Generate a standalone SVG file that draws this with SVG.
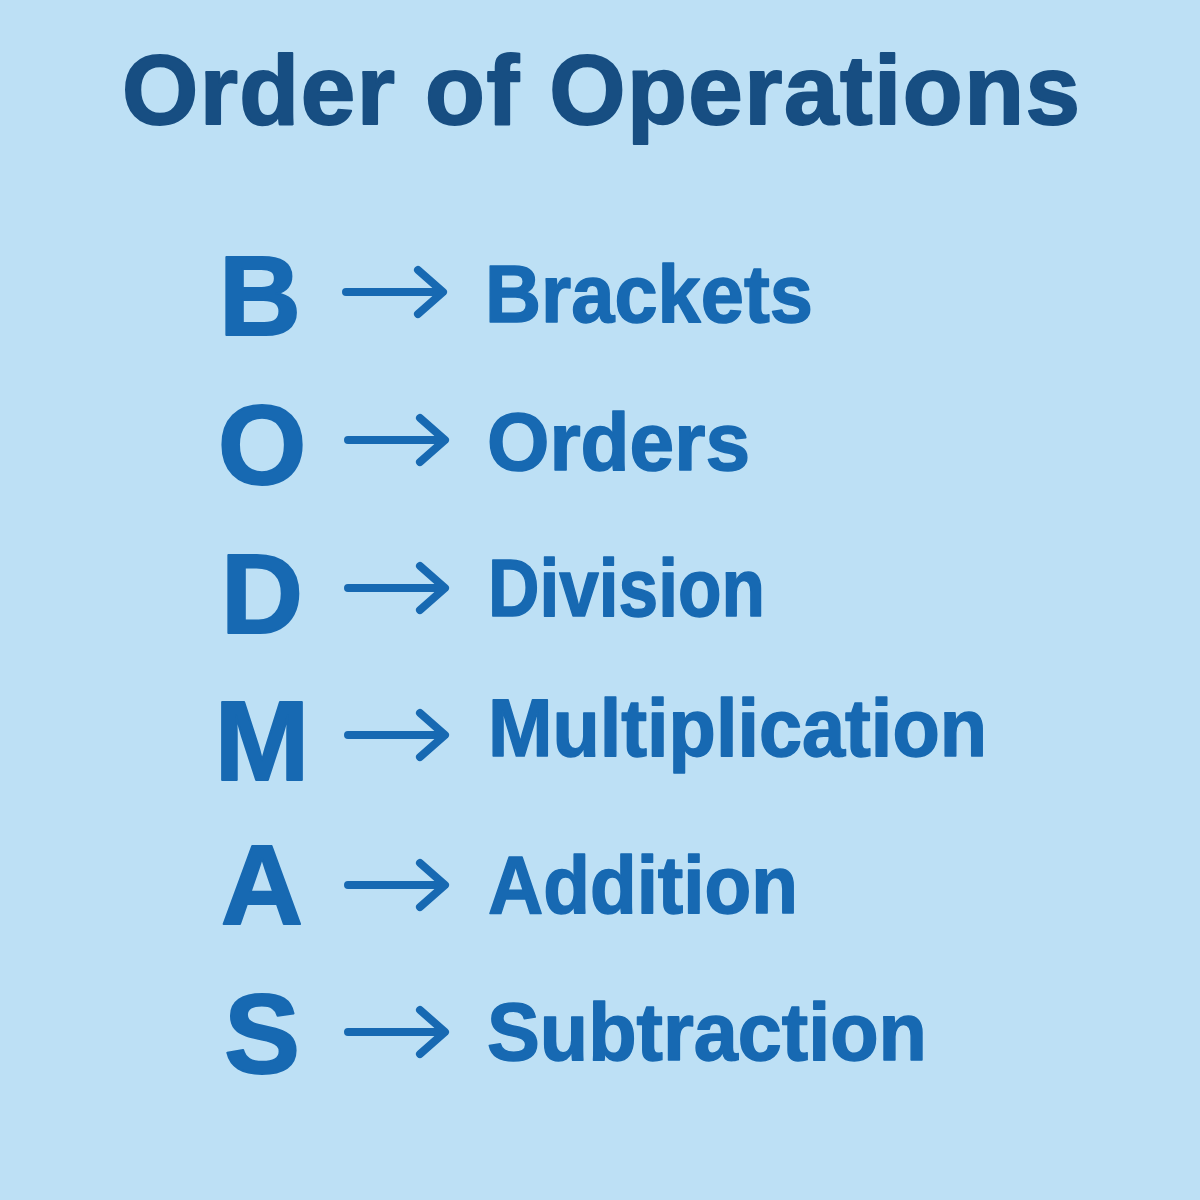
<svg xmlns="http://www.w3.org/2000/svg" width="1200" height="1200" viewBox="0 0 1200 1200">
<style>
.title{font-family:"Liberation Sans",Arial,sans-serif;font-weight:bold;font-size:98px;fill:#174E82;stroke:#174E82;stroke-width:2;stroke-linejoin:round}
.letter{font-family:"Liberation Sans",Arial,sans-serif;font-weight:bold;font-size:114px;fill:#1769B2;stroke:#1769B2;stroke-width:2;stroke-linejoin:round;text-anchor:middle}
.word{font-family:"Liberation Sans",Arial,sans-serif;font-weight:bold;font-size:82px;fill:#1769B2;stroke:#1769B2;stroke-width:1.5;stroke-linejoin:round}
.arr{fill:none;stroke:#1769B2;stroke-width:8;stroke-linecap:round;stroke-linejoin:round}
</style>
<defs>
<g id="arrow"><path class="arr" d="M0 0H96M72-22L97 0L72 22"/></g>
</defs>
<rect width="1200" height="1200" fill="#BDE0F5"/>
<g id="title"><text class="title" x="122" y="124" textLength="958" lengthAdjust="spacing">Order of Operations</text></g>
<g id="connectors">
<use href="#arrow" x="346" y="292"/>
<use href="#arrow" x="348" y="440"/>
<use href="#arrow" x="348" y="588"/>
<use href="#arrow" x="348" y="735"/>
<use href="#arrow" x="348" y="885"/>
<use href="#arrow" x="348" y="1032"/>
</g>
<g id="row-b"><text class="letter" x="260" y="335">B</text><text class="word" x="485" y="322" textLength="328" lengthAdjust="spacingAndGlyphs">Brackets</text></g>
<g id="row-o"><text class="letter" x="262" y="484">O</text><text class="word" x="487" y="470" textLength="263" lengthAdjust="spacingAndGlyphs">Orders</text></g>
<g id="row-d"><text class="letter" x="262" y="633">D</text><text class="word" x="488" y="616" textLength="277" lengthAdjust="spacingAndGlyphs">Division</text></g>
<g id="row-m"><text class="letter" x="262" y="780">M</text><text class="word" x="488" y="756" textLength="499" lengthAdjust="spacingAndGlyphs">Multiplication</text></g>
<g id="row-a"><text class="letter" x="262" y="924">A</text><text class="word" x="488" y="913" textLength="310" lengthAdjust="spacingAndGlyphs">Addition</text></g>
<g id="row-s"><text class="letter" x="262" y="1073">S</text><text class="word" x="487" y="1060" textLength="440" lengthAdjust="spacingAndGlyphs">Subtraction</text></g>
</svg>
